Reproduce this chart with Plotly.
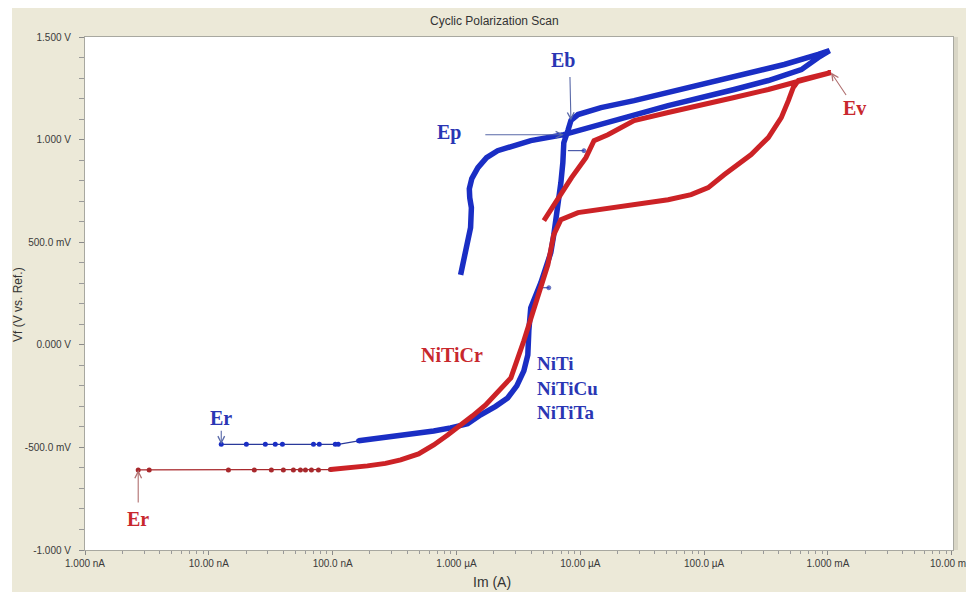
import numpy as np
import plotly.graph_objects as go

# ---------------- data ----------------
# NiTiCr (red) : current (A) and potential (V) in scan order
red_current = [2.69e-9, 3.30e-9, 1.44e-8, 2.33e-8, 3.20e-8, 4.00e-8, 4.82e-8, 5.49e-8, 6.03e-8, 6.74e-8, 7.68e-8,
               9.6e-8, 1.39e-7, 1.91e-7, 2.67e-7, 3.54e-7, 4.94e-7, 6.55e-7, 8.49e-7, 1.08e-6, 1.35e-6,
               1.72e-6, 2.19e-6, 2.75e-6, 3.50e-6, 4.54e-6,
               5.47e-6, 6.11e-6, 6.59e-6, 6.97e-6, 9.58e-6, 1.47e-5, 2.72e-5, 5.12e-5, 7.85e-5, 1.08e-4,
               1.45e-4, 1.75e-4, 2.40e-4, 3.30e-4, 4.20e-4, 4.79e-4, 5.25e-4, 5.77e-4, 7.35e-4, 1.06e-3,
               6.10e-4, 3.30e-4, 1.75e-4, 9.47e-5, 5.12e-5, 2.72e-5, 1.67e-5, 1.29e-5, 1.11e-5, 8.5e-6,
               6.35e-6, 5.08e-6]
red_potential = [-0.610] * 11 + [
    -0.608, -0.600, -0.590, -0.578, -0.561, -0.532, -0.488, -0.440, -0.395, -0.346,
    -0.293, -0.226, -0.161, 0.020, 0.229,
    0.390, 0.537, 0.585, 0.610, 0.644, 0.659, 0.683, 0.707, 0.732, 0.766,
    0.829, 0.863, 0.927, 1.010, 1.107, 1.190, 1.254, 1.288, 1.302, 1.327,
    1.288, 1.244, 1.205, 1.166, 1.132, 1.093, 1.024, 0.995, 0.912, 0.815,
    0.702, 0.605]
red_sparse_count = 12

# NiTi / NiTiCu / NiTiTa (blue)
blue_current = [1.26e-8, 2.01e-8, 2.86e-8, 3.44e-8, 3.93e-8, 7.0e-8, 7.8e-8, 1.05e-7, 1.11e-7,
                1.62e-7, 2.44e-7, 3.54e-7, 6.55e-7, 8.97e-7, 1.23e-6, 1.57e-6, 2.07e-6, 2.59e-6, 3.07e-6,
                3.50e-6, 3.77e-6, 3.84e-6, 3.98e-6,
                4.80e-6, 5.27e-6, 5.78e-6, 6.11e-6, 6.59e-6, 6.97e-6, 7.23e-6, 7.36e-6, 7.94e-6, 8.40e-6,
                9.58e-6, 1.47e-5, 2.72e-5, 5.12e-5, 1.75e-4, 4.44e-4, 8.36e-4, 1.03e-3,
                8.36e-4, 6.10e-4, 3.30e-4, 1.75e-4, 5.12e-5, 1.47e-5, 7.36e-6, 3.98e-6, 2.15e-6,
                1.75e-6, 1.49e-6, 1.33e-6, 1.27e-6, 1.28e-6, 1.32e-6, 1.30e-6, 1.19e-6, 1.12e-6, 1.08e-6]
blue_potential = [-0.485] * 9 + [
    -0.468, -0.454, -0.444, -0.420, -0.405, -0.385, -0.341, -0.300, -0.259, -0.200,
    -0.127, -0.049, 0.068, 0.180,
    0.302, 0.376, 0.449, 0.537, 0.668, 0.790, 0.888, 0.985, 1.044, 1.093,
    1.122, 1.156, 1.190, 1.229, 1.302, 1.366, 1.415, 1.434,
    1.400, 1.341, 1.288, 1.244, 1.166, 1.073, 1.024, 0.995, 0.946,
    0.912, 0.863, 0.810, 0.760, 0.717, 0.668, 0.571, 0.473, 0.390, 0.341]
blue_sparse_count = 10
blue_eb_index = 32
blue_ep_index = 47

# two short stray segments on the blue curve
blue_spike1_current = [4.54e-6, 5.57e-6]
blue_spike1_potential = [0.278, 0.278]
blue_spike2_current = [7.94e-6, 1.07e-5]
blue_spike2_potential = [0.946, 0.946]

x_tick_values = [1e-9, 1e-8, 1e-7, 1e-6, 1e-5, 1e-4, 1e-3, 1e-2]
x_tick_labels = ["1.000 nA", "10.00 nA", "100.0 nA", "1.000 µA", "10.00 µA", "100.0 µA", "1.000 mA", "10.00 mA"]
y_tick_values = [-1.0, -0.5, 0.0, 0.5, 1.0, 1.5]
y_tick_labels = ["-1.000 V", "-500.0 mV", "0.000 V", "500.0 mV", "1.000 V", "1.500 V"]

# ---------------- styling ----------------
RED = "#CC2226"
RED_DARK = "#A8282C"
BLUE = "#1A2EC4"
BLUE_DARK = "#2A3A9A"
BLUE_TXT = "#2A36B4"
RED_TXT = "#C8282D"
BG = "#ECE9D8"
SERIF = "Liberation Serif, Times New Roman, serif"
SANS = "Liberation Sans, Arial, sans-serif"
TICK_FONT = dict(family=SANS, size=10, color="#3A3A3A")

fig = go.Figure()

# blue: sparse start with dots, then thick line
fig.add_trace(go.Scatter(x=blue_current[:blue_sparse_count], y=blue_potential[:blue_sparse_count],
                         mode="lines+markers", line=dict(color=BLUE_DARK, width=1.2),
                         marker=dict(color=BLUE, size=5), showlegend=False, hoverinfo="skip"))
fig.add_trace(go.Scatter(x=blue_current[blue_sparse_count - 1:], y=blue_potential[blue_sparse_count - 1:],
                         mode="lines", line=dict(color=BLUE, width=5.5),
                         showlegend=False))
for sc, sp in [(blue_spike1_current, blue_spike1_potential), (blue_spike2_current, blue_spike2_potential)]:
    fig.add_trace(go.Scatter(x=sc, y=sp, mode="lines+markers", line=dict(color=BLUE_DARK, width=1),
                             marker=dict(color=BLUE, size=[0, 4]), showlegend=False, hoverinfo="skip"))

# red
fig.add_trace(go.Scatter(x=red_current[:red_sparse_count], y=red_potential[:red_sparse_count],
                         mode="lines+markers", line=dict(color=RED_DARK, width=1.2),
                         marker=dict(color=RED_DARK, size=5), showlegend=False, hoverinfo="skip"))
fig.add_trace(go.Scatter(x=red_current[red_sparse_count - 1:], y=red_potential[red_sparse_count - 1:],
                         mode="lines", line=dict(color=RED, width=5),
                         showlegend=False))

L, R, T, B = 85, 13, 37, 42
W, H = 966, 592
pw, ph = W - L - R, H - T - B


def px(xp):
    return (xp - L) / pw


def py(yp):
    return (H - B - yp) / ph


lx = np.log10
ann = []


def arrow(xv, yv, ax, ay, color):
    ann.append(dict(x=lx(xv), y=yv, xref="x", yref="y", text="", showarrow=True, ax=ax, ay=ay,
                    arrowhead=5, arrowsize=1.2, arrowwidth=1.1, arrowcolor=color))


def label(xv, yv, text, color, xs=0, ys=0, size=20):
    ann.append(dict(x=lx(xv), y=yv, xref="x", yref="y", text=text, showarrow=False, xshift=xs, yshift=ys,
                    xanchor="center", yanchor="middle",
                    font=dict(family=SERIF, size=size, color=color)))


def paper_text(xp, yp, text, font, **kw):
    d = dict(x=px(xp), y=py(yp), xref="paper", yref="paper", text=text, showarrow=False,
             xanchor="center", yanchor="middle", font=font)
    d.update(kw)
    ann.append(d)


# Er (blue)
arrow(blue_current[0], blue_potential[0], 0, -15, "#5868A8")
label(blue_current[0], blue_potential[0], "<b>Er</b>", BLUE_TXT, 0, 26)
# Er (red)
arrow(red_current[0], red_potential[0], 0, 34, "#B07070")
label(red_current[0], red_potential[0], "<b>Er</b>", RED_TXT, 0, -49)
# Eb
arrow(blue_current[blue_eb_index], blue_potential[blue_eb_index], -1, -45, "#5868A8")
label(blue_current[blue_eb_index], blue_potential[blue_eb_index], "<b>Eb</b>", BLUE_TXT, -8, 61)
# Ep
arrow(blue_current[blue_ep_index], blue_potential[blue_ep_index], -80, 0, "#5868A8")
label(blue_current[blue_ep_index], blue_potential[blue_ep_index], "<b>Ep</b>", BLUE_TXT, -115, 2)
# Ev
iv = int(np.argmax(red_potential))
arrow(red_current[iv], red_potential[iv], 16, 24, "#B07070")
label(red_current[iv], red_potential[iv], "<b>Ev</b>", RED_TXT, 23, -35)

# series names
paper_text(452, 355, "<b>NiTiCr</b>", dict(family=SERIF, size=20, color=RED_TXT))
paper_text(535, 388, "<b>NiTi<br>NiTiCu<br>NiTiTa</b>", dict(family=SERIF, size=19, color=BLUE_TXT),
           xanchor="left", align="left")

# title and axis titles
paper_text(494, 21, "Cyclic Polarization Scan", dict(family=SANS, size=12, color="#333333"))
paper_text(492, 582, "Im (A)", dict(family=SANS, size=14, color="#333333"))
paper_text(18, 305, "Vf (V vs. Ref.)", dict(family=SANS, size=12, color="#333333"), textangle=-90)

# the last x tick label runs off the right edge of the picture (plotly would hide it)
ann.append(dict(x=lx(x_tick_values[-1]), y=py(563), xref="x", yref="paper", text=x_tick_labels[-1],
                showarrow=False, xanchor="center", yanchor="middle", font=TICK_FONT))

shapes = [
    # white frame strips at left and top of the picture
    dict(type="rect", xref="paper", yref="paper", x0=px(0), x1=px(12), y0=py(H), y1=py(0),
         fillcolor="white", line=dict(width=0), layer="below"),
    dict(type="rect", xref="paper", yref="paper", x0=px(0), x1=px(W), y0=py(8), y1=py(0),
         fillcolor="white", line=dict(width=0), layer="below"),
    # panel shadow on the right side of plot area
    dict(type="rect", xref="paper", yref="paper", x0=1.0, x1=px(L + pw + 5), y0=0, y1=1,
         fillcolor="#D9D6C6", line=dict(width=0), layer="below"),
]

minor_x = [m * 10.0 ** d for d in range(-9, -2) for m in range(2, 10)]
minor_y = [round(v, 1) for v in np.arange(-0.9, 1.5, 0.1) if abs(round(v * 10) % 5) != 0]

fig.update_layout(
    width=W, height=H,
    margin=dict(l=L, r=R, t=T, b=B, pad=0),
    paper_bgcolor=BG, plot_bgcolor="white",
    annotations=ann, shapes=shapes,
    xaxis=dict(type="log", range=[-9, -1.99], tickmode="array", tickvals=x_tick_values,
               ticktext=x_tick_labels, ticks="outside", ticklen=4, tickcolor="#8A8A8A",
               showline=True, linecolor="#A8A8A0", linewidth=1, mirror=True, showgrid=False, zeroline=False,
               tickfont=TICK_FONT,
               minor=dict(tickvals=minor_x, ticks="outside", ticklen=3, tickcolor="#9A9A9A", showgrid=False)),
    yaxis=dict(range=[-1.0, 1.5], tickmode="array", tickvals=y_tick_values, ticktext=y_tick_labels,
               ticks="outside", ticklen=5, tickcolor="#8A8A8A", ticklabelstandoff=6,
               showline=True, linecolor="#A8A8A0", linewidth=1, mirror=True, showgrid=False, zeroline=False,
               tickfont=TICK_FONT,
               minor=dict(tickvals=minor_y, ticks="outside", ticklen=5, tickcolor="#9A9A9A", showgrid=False)),
)

page_css = (
    "document.documentElement.style.overflow='hidden';"
    "document.body.style.margin='0';document.body.style.overflow='hidden';"
)
fig.write_html("out.html", config={"displayModeBar": False}, post_script=page_css)
